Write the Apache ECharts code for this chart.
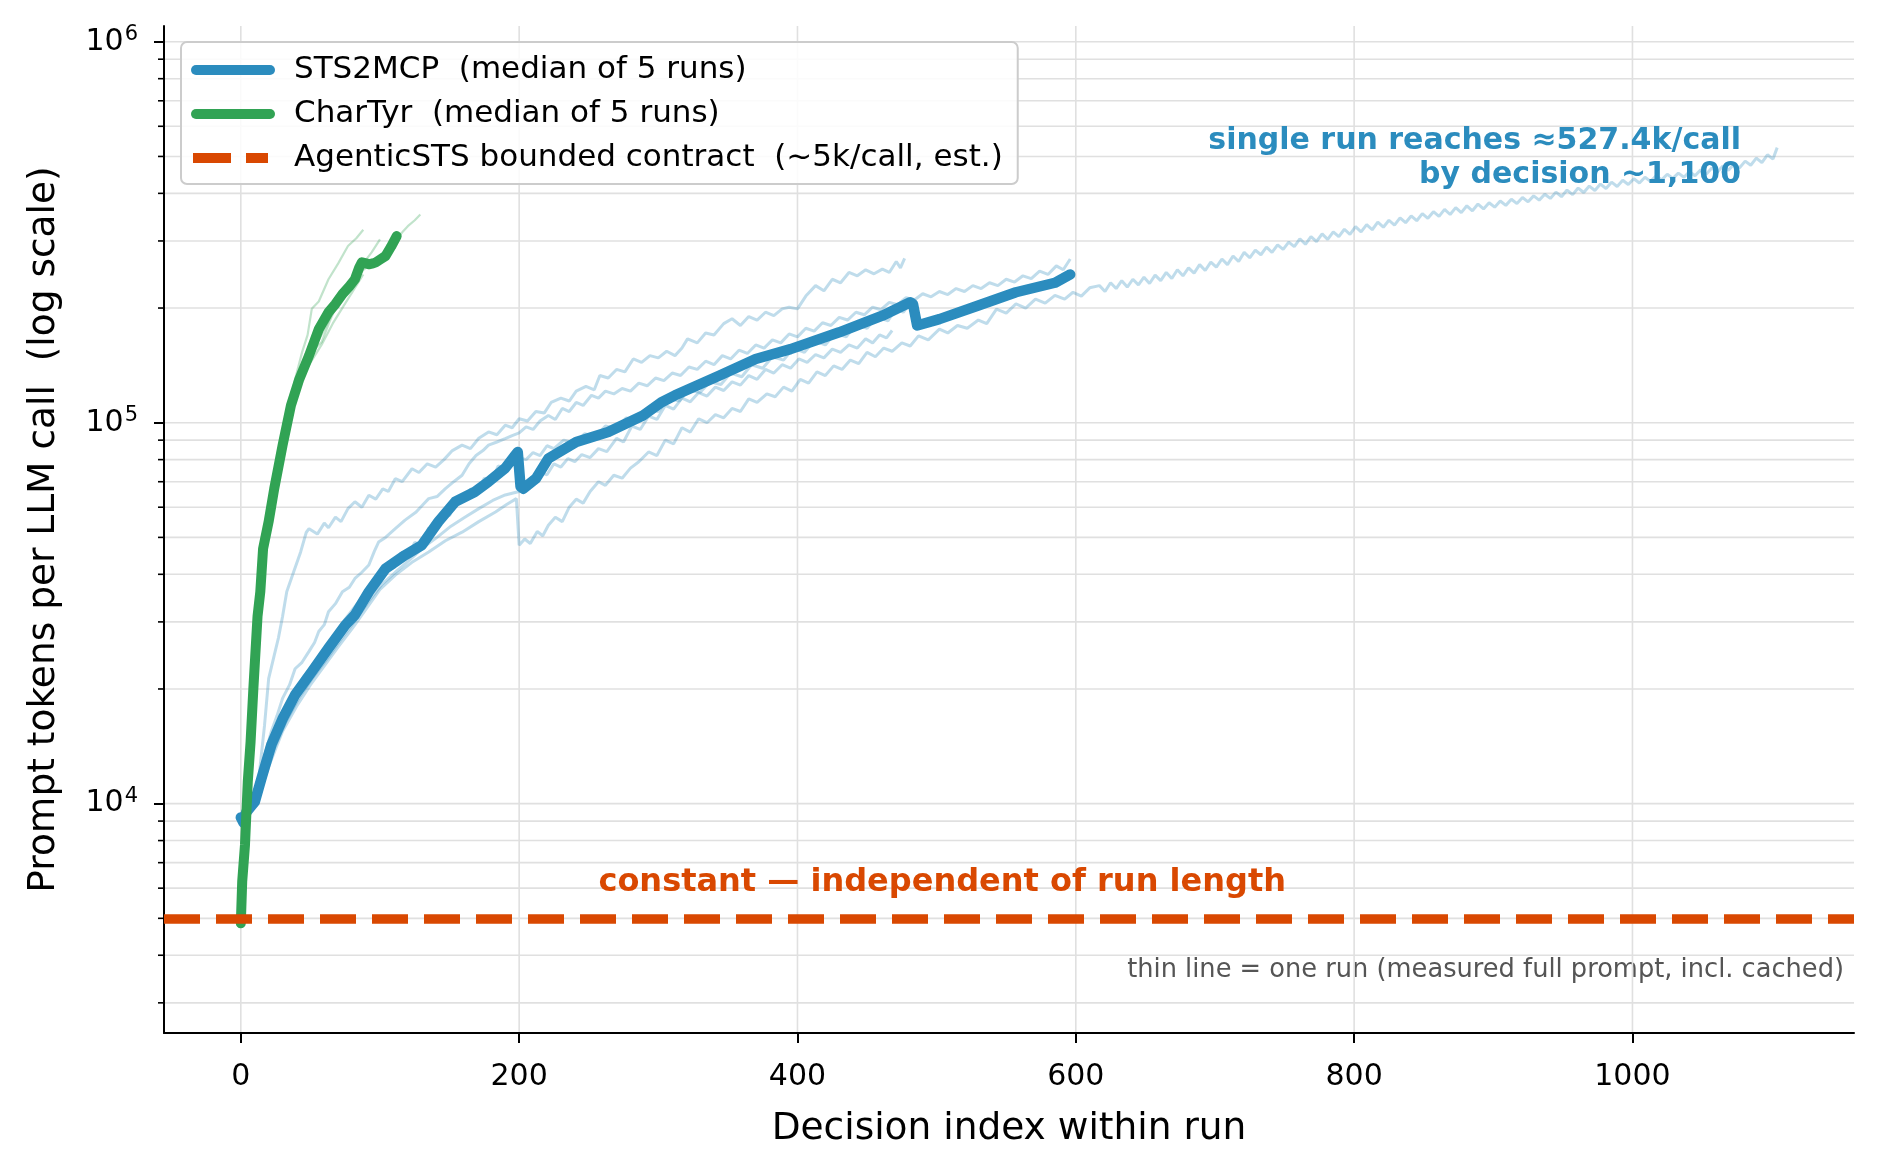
<!DOCTYPE html>
<html>
<head>
<meta charset="utf-8">
<title>Prompt tokens per LLM call</title>
<script src="https://cdn.jsdelivr.net/npm/echarts@6.0.0/dist/echarts.min.js"></script>
<style>
  html, body { margin: 0; padding: 0; background: #fff; }
  #chart { width: 1882px; height: 1173px; }
</style>
</head>
<body>
<div id="chart"></div>
<script>
// axis limits and ticks
const xLimits = [-55.2, 1159.2]
const yLimits = [2500, 1100000]
const xTicks = [0, 200, 400, 600, 800, 1000]
const yMajorTicks = [10000, 100000, 1000000]
const yMinorTicks = [3000, 4000, 5000, 6000, 7000, 8000, 9000,
  20000, 30000, 40000, 50000, 60000, 70000, 80000, 90000,
  200000, 300000, 400000, 500000, 600000, 700000, 800000, 900000]

// STS2MCP median of 5 runs  [decision, prompt tokens]
const stsMedian = [
  [0, 9200], [2, 8900], [4, 9500], [7, 9800], [10, 10100], [15, 11700], [22, 14300], [30, 16700],
  [39, 19300], [51, 22200], [63, 25600], [75, 29400], [82, 31300], [92, 36000], [104, 41400],
  [118, 44900], [130, 47700], [142, 55000], [154, 62000], [168, 65800], [178, 70000], [190, 76000],
  [197, 82000], [199, 83800], [201, 68000], [203, 67100], [212, 71300], [221, 80500], [241, 89000],
  [264, 94600], [289, 104500], [302, 113000], [312, 118000], [344, 133000], [370, 147000],
  [395, 156000], [430, 172700], [461, 191000], [481, 207000], [483, 205000], [486, 180000],
  [502, 187000], [530, 203000], [557, 220000], [585, 233000], [596, 245000]
]

// STS2MCP single runs
const stsRun1 = [
  [0, 9300], [5, 9800], [10, 10800], [13, 11700], [17, 16000], [20, 21300], [24, 24500], [27, 27200],
  [30, 31000], [33, 36000], [38, 40600], [43, 45800], [47, 51500], [49, 52700], [55, 51000], [60, 54500],
  [63, 53000], [68, 56500], [72, 55000], [77, 59500], [82, 62000], [87, 60000], [92, 64500], [97, 63000],
  [102, 67000], [106, 66000], [111, 71300], [116, 70000], [123, 75700], [128, 74000], [134, 78000],
  [140, 76500], [146, 80000], [152, 84500], [159, 87300], [165, 85500], [171, 91000], [178, 94600],
  [184, 93000], [190, 98500], [195, 97000], [200, 102400], [206, 101000], [212, 107000], [218, 106000],
  [223, 113000], [230, 116000], [236, 114000], [241, 121000], [248, 124500], [254, 122000], [258, 133000],
  [264, 131000], [270, 138000], [276, 136000], [282, 147000], [288, 144000], [294, 150000], [300, 148000],
  [306, 154000], [312, 150000], [317, 157000], [321, 166000], [328, 162000], [334, 172000], [340, 170000],
  [347, 182000], [353, 187500], [359, 180000], [365, 190000], [371, 186000], [377, 195000], [383, 191000],
  [389, 199000], [394, 201000], [400, 199000], [406, 215000], [413, 229000], [419, 222000], [425, 238000],
  [431, 233000], [437, 248000], [443, 243000], [449, 252000], [455, 246000], [461, 253000], [466, 248000],
  [471, 265000], [474, 255000], [477, 270000]
]
const stsRun2 = [
  [0, 9000], [5, 9600], [10, 10400], [16, 12900], [22, 15500], [26, 17000], [30, 18900], [35, 20500],
  [39, 22600], [44, 23500], [49, 25100], [53, 26500], [56, 28300], [60, 29500], [63, 31900], [68, 33500],
  [73, 36000], [78, 37000], [82, 39000], [87, 40500], [92, 42300], [96, 46000], [99, 48600], [104, 50000],
  [111, 52700], [118, 55500], [126, 58300], [131, 61000], [135, 63200], [141, 64000], [147, 67100],
  [153, 70000], [159, 72800], [164, 78000], [169, 82000], [174, 84500], [178, 87300], [184, 89000],
  [190, 90800], [195, 92500], [200, 94000], [205, 97500], [210, 96000], [215, 101000], [221, 104500],
  [226, 102000], [231, 109000], [236, 107000], [241, 113000], [246, 111000], [252, 118000], [257, 116000],
  [262, 121000], [268, 119000], [274, 123000], [280, 121000], [286, 127000], [292, 125000], [298, 131000],
  [304, 129000], [310, 135000], [316, 133000], [322, 140000], [328, 138000], [334, 145000], [340, 142000],
  [346, 150000], [352, 147000], [358, 155000], [364, 152000], [370, 160000], [376, 157000], [382, 165000],
  [388, 162000], [394, 171000], [400, 168000], [406, 177000], [412, 174000], [418, 183000], [424, 180000],
  [430, 189000], [436, 186000], [442, 195000], [448, 192000], [454, 201000], [460, 198000], [466, 207000],
  [472, 204000], [478, 213000], [484, 210000], [490, 218000], [496, 214000], [502, 221000], [508, 217000],
  [514, 225000], [520, 221000], [526, 229000], [532, 225000], [538, 233000], [544, 229000], [550, 238000],
  [556, 234000], [562, 243000], [568, 239000], [574, 250000], [580, 245000], [586, 258000], [591, 252000],
  [596, 269000]
]
const stsRun3 = [
  [0, 9400], [8, 10000], [15, 11900], [25, 15500], [35, 18500], [45, 21500], [55, 24000], [65, 27000],
  [75, 30500], [85, 34000], [95, 38500], [105, 42500], [110, 41500], [115, 45500], [120, 44500],
  [125, 48500], [130, 47500], [135, 53000], [140, 52000], [145, 58000], [150, 57000], [155, 63500],
  [160, 62000], [165, 67000], [170, 66000], [175, 71500], [180, 70000], [185, 77000], [190, 75500],
  [195, 83000], [200, 81000], [205, 80000], [210, 83500], [215, 82000], [220, 87000], [225, 85500],
  [232, 90000], [240, 88500], [247, 93500], [255, 92000], [262, 98000], [270, 96500], [277, 103000],
  [285, 101000], [292, 109000], [300, 107000], [307, 116000], [315, 114000], [322, 122000], [330, 120000],
  [337, 128000], [345, 126000], [352, 135000], [360, 132000], [367, 142000], [375, 139000], [382, 149000],
  [390, 146000], [397, 157000], [405, 153000], [412, 164000], [420, 160000], [427, 172000], [435, 168000],
  [442, 181000], [450, 177000], [457, 190000], [465, 185000], [471, 200000], [476, 195000], [484, 212000]
]
const stsRun4 = [
  [0, 9100], [7, 9700], [14, 10900], [22, 13400], [32, 16300], [42, 19000], [52, 21500], [62, 24000],
  [72, 27000], [82, 30200], [92, 34000], [101, 37500], [111, 40500], [121, 43500], [131, 47000],
  [141, 50000], [151, 53500], [161, 56500], [171, 59500], [181, 62500], [190, 64600], [200, 66000],
  [205, 69000], [209, 72000], [212, 70000], [215, 74300], [220, 73000], [225, 78000], [230, 76500],
  [235, 80500], [240, 79000], [245, 82500], [251, 81000], [257, 85500], [263, 84000], [270, 91000],
  [275, 89000], [281, 98000], [287, 96000], [293, 104000], [299, 102000], [305, 111000], [311, 108500],
  [317, 116000], [323, 113500], [329, 120000], [335, 117500], [341, 124000], [347, 121500], [353, 128000],
  [359, 125500], [365, 133000], [371, 130000], [377, 138000], [383, 135000], [389, 142000], [395, 139000],
  [401, 147000], [407, 144000], [413, 151000], [419, 148000], [425, 156000], [431, 153000], [437, 160000],
  [443, 157000], [449, 166000], [454, 162000], [459, 170000], [464, 167000], [468, 174600]
]
const stsRun5 = [
  [0, 8900], [6, 9400], [12, 10300], [20, 12500], [30, 15500], [40, 18000], [50, 20500], [60, 23000],
  [70, 25800], [80, 28800], [92, 33200], [100, 36500], [111, 39800], [123, 43000], [135, 45800],
  [147, 49000], [159, 51600], [171, 55000], [183, 58300], [191, 61000], [198, 63200], [200, 47700],
  [204, 49500], [208, 48200], [213, 51800], [217, 50500], [221, 53800], [226, 56500], [231, 55000],
  [236, 60000], [241, 63000], [246, 61500], [251, 66000], [257, 70000], [262, 68500], [268, 72800],
  [274, 71500], [280, 76000], [286, 79000], [293, 83800], [299, 82000], [305, 90000], [311, 88000],
  [317, 97000], [323, 94500], [329, 102400], [335, 100000], [341, 105000], [347, 103000], [353, 109000],
  [359, 107000], [365, 115500], [371, 113000], [378, 119000], [384, 117000], [390, 124000], [396, 121000],
  [402, 130000], [408, 127000], [414, 136000], [420, 133000], [426, 141000], [432, 138000], [438, 146000],
  [444, 143000], [450, 153000], [456, 149000], [462, 157000], [468, 154000], [475, 162000], [481, 159000],
  [487, 169000], [494, 165000], [502, 176000], [508, 172000], [515, 180000], [522, 177000], [530, 186000],
  [536, 182000], [543, 198600], [550, 194000], [557, 205000], [564, 200000], [571, 211000], [578, 206000],
  [585, 216000], [592, 211000], [598, 220000], [604, 215000], [610, 226000], [617, 229000], [621, 221000],
  [625, 233000], [629, 225000], [633, 236000], [637, 227000], [641, 238000], [645, 230000], [649, 241000],
  [653, 232000], [657, 244000], [661, 236000], [665, 248000], [669, 239000], [673, 252000], [677, 243000],
  [681, 255000], [685, 247000], [689, 260000], [693, 251000], [697, 264000], [701, 256000], [705, 269000],
  [709, 260000], [713, 274000], [717, 265000], [721, 280000], [725, 271000], [729, 284000], [733, 276000],
  [737, 289000], [741, 280000], [745, 293000], [749, 285000], [753, 298000], [757, 290000], [761, 304000],
  [765, 294000], [769, 308000], [773, 299000], [777, 313000], [781, 303000], [785, 317000], [789, 308000],
  [793, 322000], [797, 312000], [801, 327000], [805, 317000], [809, 331000], [813, 321000], [817, 336000],
  [821, 326000], [825, 340000], [829, 330000], [833, 345000], [837, 335000], [841, 349000], [845, 339000],
  [849, 354000], [853, 344000], [857, 358000], [861, 348000], [865, 363000], [869, 352000], [873, 367000],
  [877, 356000], [881, 371000], [885, 360000], [889, 375000], [893, 364000], [897, 378000], [901, 368000],
  [905, 382000], [909, 372000], [913, 386000], [917, 376000], [921, 390000], [925, 380000], [929, 394000],
  [933, 384000], [937, 398000], [941, 388000], [945, 403000], [949, 392000], [953, 408000], [957, 397000],
  [961, 413000], [965, 402000], [969, 418000], [973, 407000], [977, 423000], [981, 412000], [985, 428000],
  [989, 417000], [993, 433000], [997, 422000], [1001, 437000], [1005, 426000], [1009, 441000],
  [1013, 430000], [1017, 445000], [1021, 434000], [1025, 449000], [1029, 438000], [1033, 452000],
  [1037, 441000], [1041, 456000], [1045, 445000], [1049, 461000], [1053, 449000], [1057, 466000],
  [1061, 455000], [1065, 472000], [1069, 460000], [1073, 478000], [1077, 467000], [1081, 486000],
  [1085, 474000], [1089, 495000], [1093, 482000], [1097, 505000], [1101, 492000], [1104, 527400]
]

// CharTyr median of 5 runs
const charMedian = [
  [0, 4850], [1, 6250], [3, 7800], [5, 11400], [7, 14500], [9, 20000], [12, 31000], [14, 36000],
  [16, 46700], [20, 55000], [24, 67100], [30, 87200], [36, 111000], [42, 130000], [49, 150000],
  [56, 176000], [63, 195000], [68, 205000], [73, 217600], [78, 228000], [82, 238000], [85, 255000],
  [87, 263600], [90, 262000], [92, 260600], [95, 262000], [97, 263600], [100, 268000], [104, 274000],
  [108, 290000], [112, 309000]
]
const charRun1 = [
  [0, 5000], [3, 8000], [6, 13000], [9, 21000], [12, 32000], [16, 48000], [20, 60000], [25, 75000],
  [30, 92000], [35, 112000], [39, 130000], [44, 153000], [48, 170000], [51, 199000], [56, 208000],
  [63, 238000], [70, 262000], [77, 291000], [83, 305000], [88, 321000]
]
const charRun2 = [
  [0, 4900], [4, 9000], [8, 17000], [12, 30000], [16, 44000], [22, 62000], [28, 82000], [34, 104000],
  [40, 124000], [46, 142000], [52, 155000], [58, 162600], [64, 185000], [70, 208000], [76, 226000],
  [82, 244000], [88, 262000], [94, 280000], [100, 303000]
]
const charRun3 = [
  [0, 4800], [4, 8500], [8, 16000], [12, 29000], [16, 43000], [22, 60000], [28, 80000], [34, 101000],
  [40, 120000], [46, 138000], [52, 155000], [58, 170000], [64, 188000], [70, 206000], [76, 222000],
  [82, 236000], [88, 252000], [94, 262000], [100, 272000], [106, 292000], [112, 306000], [116, 316000],
  [120, 328000], [125, 340000], [129, 352000]
]
const charRun4 = [
  [0, 4850], [5, 10000], [10, 19000], [15, 38000], [20, 52000], [26, 68000], [32, 90000], [40, 118000],
  [48, 140000], [58, 160000], [66, 182000], [74, 203000], [82, 226000], [88, 245000]
]

// AgenticSTS bounded contract estimate
const agenticContract = 5000

// annotation anchors [decision, tokens]
const runNoteAt = [1078, 495000]
const constantNoteAt = [504, 6200]

const BLUE = '#2b8cbe'
const GREEN = '#31a354'
const ORANGE = '#d94801'
const GRID = '#e0e0e0'
const FONT = 'DejaVu Sans'

const stsName = 'STS2MCP  (median of 5 runs)'
const charName = 'CharTyr  (median of 5 runs)'
const agenticName = 'AgenticSTS bounded contract  (~5k/call, est.)'

// legend handles: thick rounded bar, and two dashes
const solidIcon = 'path://M5,0H79A5,5,0,0,1,79,10H5A5,5,0,0,1,5,0Z'
const dashIcon = 'path://M0,5M2,0H40V10H2ZM55,0H77V10H55ZM84,5'

const thinLine = (data, color, width) => ({
  type: 'line',
  data,
  symbol: 'none',
  silent: true,
  z: 2,
  lineStyle: { color, width, opacity: 0.3 }
})

// gridlines (+ minor ticks on the y axis) drawn through the axis scales
const gridLines = (values, dir, withTick) => ({
  type: 'custom',
  silent: true,
  clip: false,
  z: 0,
  data: values.map(v => dir === 'x' ? [v, yLimits[0]] : [xLimits[0], v]),
  renderItem (params, api) {
    const cs = params.coordSys
    const p = api.coord([api.value(0), api.value(1)])
    if (dir === 'x') {
      return {
        type: 'line',
        shape: { x1: p[0], y1: cs.y, x2: p[0], y2: cs.y + cs.height },
        style: { stroke: GRID, lineWidth: 1.6 }
      }
    }
    const children = [{
      type: 'line',
      shape: { x1: cs.x, y1: p[1], x2: cs.x + cs.width, y2: p[1] },
      style: { stroke: GRID, lineWidth: 1.6 }
    }]
    if (withTick) {
      children.push({
        type: 'line',
        shape: { x1: cs.x - 6, y1: p[1], x2: cs.x, y2: p[1] },
        style: { stroke: '#000', lineWidth: 1.6 }
      })
    }
    return { type: 'group', children }
  }
})

const chart = echarts.init(document.getElementById('chart'))

const option = {
  animation: false,
  textStyle: { fontFamily: FONT },
  grid: { left: 164, right: 28, top: 26, bottom: 140 },
  legend: {
    data: [
      { name: stsName, icon: solidIcon },
      { name: charName, icon: solidIcon },
      { name: agenticName, icon: dashIcon }
    ],
    orient: 'vertical',
    left: 181,
    top: 42,
    itemWidth: 84,
    itemHeight: 10,
    symbolKeepAspect: false,
    itemGap: 12,
    padding: [12, 15, 10, 10],
    borderColor: '#cccccc',
    borderWidth: 2,
    borderRadius: 6,
    backgroundColor: 'rgba(255,255,255,0.85)',
    selectedMode: false,
    z: 10,
    textStyle: { fontSize: 31, fontFamily: FONT, color: '#000', lineHeight: 32, padding: [0, 0, 0, 14] }
  },
  xAxis: {
    type: 'value',
    min: xLimits[0],
    max: xLimits[1],
    name: 'Decision index within run',
    nameLocation: 'middle',
    nameGap: 77,
    nameTextStyle: { fontSize: 37.5, color: '#000', fontFamily: FONT },
    axisLine: { show: true, onZero: false, lineStyle: { color: '#000', width: 2 } },
    axisTick: { show: true, length: 10, customValues: xTicks, lineStyle: { color: '#000', width: 2 } },
    axisLabel: {
      customValues: xTicks,
      formatter: v => String(v),
      fontSize: 30,
      color: '#000',
      fontFamily: FONT,
      margin: 29
    },
    splitLine: { show: false }
  },
  yAxis: {
    type: 'log',
    logBase: 10,
    min: yLimits[0],
    max: yLimits[1],
    name: 'Prompt tokens per LLM call  (log scale)',
    nameLocation: 'middle',
    nameGap: 101,
    nameRotate: 90,
    nameTextStyle: { fontSize: 37.5, color: '#000', fontFamily: FONT },
    axisLine: { show: true, onZero: false, lineStyle: { color: '#000', width: 2 } },
    axisTick: { show: true, length: 10, customValues: yMajorTicks, lineStyle: { color: '#000', width: 2 } },
    axisLabel: {
      customValues: yMajorTicks,
      margin: 26,
      formatter: v => '{b|10}{sup|' + Math.round(Math.log10(v)) + '}',
      rich: {
        b: { fontSize: 30, color: '#000', fontFamily: FONT },
        sup: { fontSize: 21, color: '#000', fontFamily: FONT, verticalAlign: 'top', padding: [0, 0, 14, 1] }
      }
    },
    splitLine: { show: false }
  },
  graphic: [{
    type: 'text',
    right: 38,
    top: 957,
    style: {
      text: 'thin line = one run (measured full prompt, incl. cached)',
      fontSize: 25.7,
      fontFamily: FONT,
      fill: '#555555'
    }
  }],
  series: [
    gridLines(xTicks, 'x', false),
    gridLines(yMajorTicks, 'y', false),
    gridLines(yMinorTicks, 'y', true),
    thinLine(stsRun1, BLUE, 3),
    thinLine(stsRun2, BLUE, 3),
    thinLine(stsRun3, BLUE, 3),
    thinLine(stsRun4, BLUE, 3),
    thinLine(stsRun5, BLUE, 3),
    thinLine(charRun1, GREEN, 2.2),
    thinLine(charRun2, GREEN, 2.2),
    thinLine(charRun3, GREEN, 2.2),
    thinLine(charRun4, GREEN, 2.2),
    {
      name: stsName,
      type: 'line',
      data: stsMedian,
      symbol: 'none',
      z: 3,
      itemStyle: { color: BLUE },
      lineStyle: { color: BLUE, width: 10.5, cap: 'round', join: 'round' },
      markPoint: {
        silent: true,
        symbol: 'circle',
        symbolSize: 0,
        data: [{ coord: runNoteAt }],
        label: {
          show: true,
          position: 'inside',
          align: 'right',
          verticalAlign: 'middle',
          formatter: 'single run reaches ≈527.4k/call\nby decision ~1,100',
          color: BLUE,
          fontSize: 30,
          fontWeight: 'bold',
          fontFamily: FONT,
          lineHeight: 34
        }
      }
    },
    {
      name: charName,
      type: 'line',
      data: charMedian,
      symbol: 'none',
      z: 4,
      itemStyle: { color: GREEN },
      lineStyle: { color: GREEN, width: 10, cap: 'round', join: 'round' }
    },
    {
      name: agenticName,
      type: 'line',
      data: [],
      symbol: 'none',
      z: 5,
      itemStyle: { color: ORANGE },
      lineStyle: { color: ORANGE, width: 9.5, type: [36, 16] },
      markLine: {
        silent: true,
        symbol: 'none',
        label: { show: false },
        lineStyle: { color: ORANGE, width: 9.5, type: [36, 16] },
        data: [{ yAxis: agenticContract }]
      },
      markPoint: {
        silent: true,
        symbol: 'circle',
        symbolSize: 0,
        data: [{ coord: constantNoteAt }],
        label: {
          show: true,
          position: 'inside',
          align: 'center',
          verticalAlign: 'middle',
          formatter: 'constant — independent of run length',
          color: ORANGE,
          fontSize: 32,
          fontWeight: 'bold',
          fontFamily: FONT
        }
      }
    }
  ]
}

chart.setOption(option)
window.addEventListener('resize', () => chart.resize())
</script>
</body>
</html>
